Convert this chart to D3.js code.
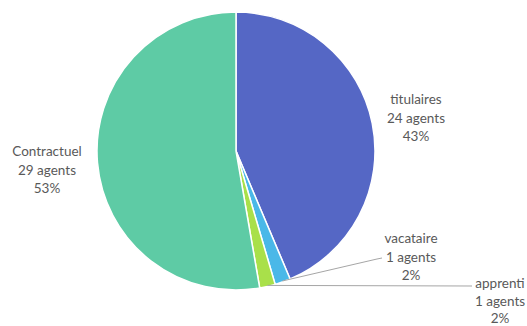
<!DOCTYPE html>
<html>
<head>
<meta charset="utf-8">
<script src="https://cdn.jsdelivr.net/npm/d3@7"></script>
<style>
  html, body { margin: 0; padding: 0; background: #fff; overflow: hidden; }
  svg text { font-family: Lato, "Open Sans", sans-serif; font-size: 13.5px; fill: #595959; }
</style>
</head>
<body>
<svg id="chart" width="527" height="326"></svg>
<script>
// Staff by contract type
const categories = ["titulaires", "vacataire", "apprenti", "Contractuel"];
const agents = [24, 1, 1, 29];
const percentLabels = ["43%", "2%", "2%", "53%"];
const colors = ["#5567c5", "#4ab8e8", "#a9e04a", "#5ecba5"];

const width = 527, height = 326;
const cx = 236, cy = 151, radius = 139;

const svg = d3.select("#chart");
const g = svg.append("g").attr("transform", `translate(${cx},${cy})`);

const pie = d3.pie().sort(null).value(d => d.value);
const arc = d3.arc().innerRadius(0).outerRadius(radius);

const data = categories.map((c, i) => ({ name: c, value: agents[i], pct: percentLabels[i], color: colors[i] }));
const arcs = pie(data);

g.selectAll("path.slice")
  .data(arcs)
  .enter().append("path")
  .attr("class", "slice")
  .attr("d", arc)
  .attr("fill", d => d.data.color)
  .attr("stroke", "#fff")
  .attr("stroke-width", 1.5);

// Label placement: label centre relative to pie centre; small slices get a leader line
const labelLayout = {
  "titulaires":  { x: 180, y: -33, gap: 18.5, leader: null },
  "vacataire":   { x: 175, y: 106, gap: 18.5, leader: [[141, 108], [146, 107]] },
  "apprenti":    { x: 264, y: 150, gap: 17.5, leader: [[236, 135]] },
  "Contractuel": { x: -189, y: 19, gap: 18.5, leader: null }
};

arcs.forEach(a => {
  const lay = labelLayout[a.data.name];
  if (lay.leader) {
    const mid = (a.startAngle + a.endAngle) / 2;
    const start = [Math.sin(mid) * (radius - 1), -Math.cos(mid) * (radius - 1)];
    const pts = [start].concat(lay.leader);
    g.append("path")
      .attr("d", d3.line()(pts))
      .attr("fill", "none")
      .attr("stroke", "#a6a6a6")
      .attr("stroke-width", 1);
  }
  const t = g.append("text")
    .attr("text-anchor", "middle")
    .attr("transform", `translate(${lay.x},${lay.y})`);
  const lines = [a.data.name, `${a.data.value} agents`, a.data.pct];
  lines.forEach((s, i) => {
    t.append("tspan")
      .attr("x", 0)
      .attr("y", (i - 1) * lay.gap)
      .attr("dy", "0.35em")
      .text(s);
  });
});
</script>
</body>
</html>
